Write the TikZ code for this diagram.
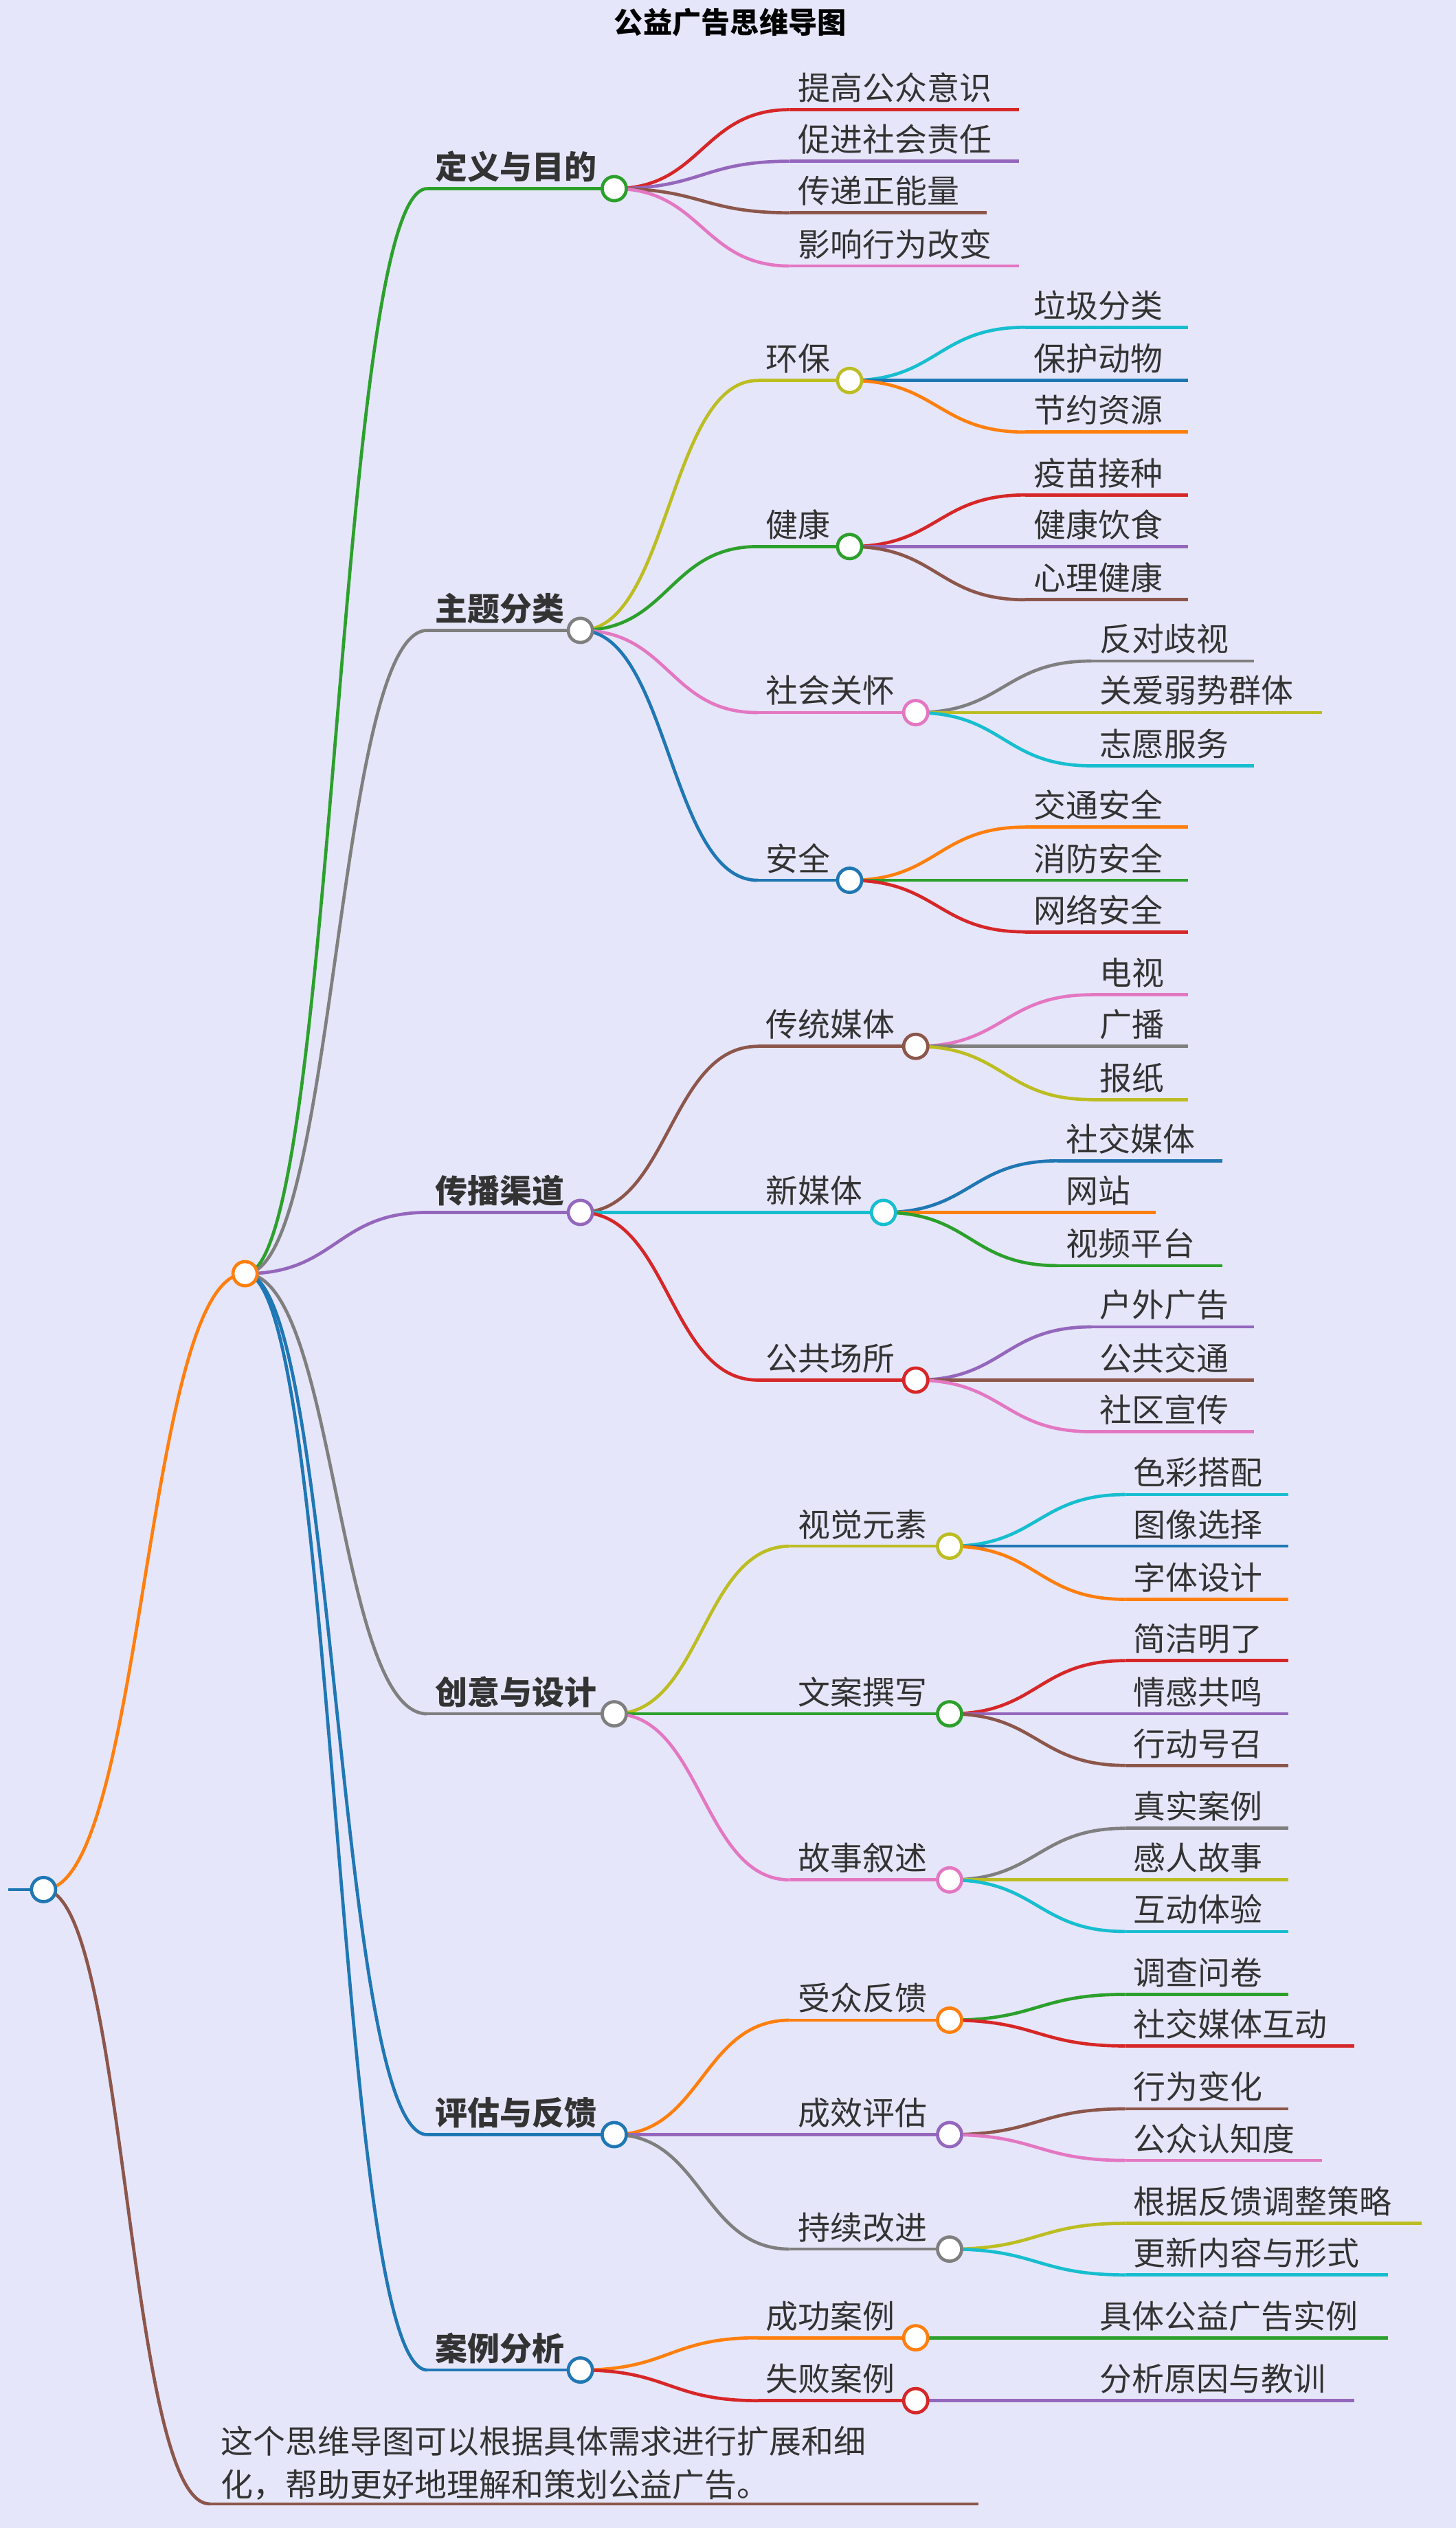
\documentclass[tikz,border=0pt]{standalone}
\usepackage{fontspec}
\setmainfont{Noto Sans CJK SC}
\usetikzlibrary{calc}
\definecolor{bgc}{HTML}{E6E6FA}
\definecolor{cgreen}{HTML}{2CA02C}
\definecolor{cgrey}{HTML}{7F7F7F}
\definecolor{cpurple}{HTML}{9467BD}
\definecolor{cblue}{HTML}{1F77B4}
\definecolor{corange}{HTML}{FF7F0E}
\definecolor{cred}{HTML}{D62728}
\definecolor{cbrown}{HTML}{8C564B}
\definecolor{cpink}{HTML}{E377C2}
\definecolor{colive}{HTML}{BCBD22}
\definecolor{ccyan}{HTML}{17BECF}
\tikzset{
  edge/.style={line width=2bp},
  lbl/.style={inner sep=0pt,font=\fontsize{20bp}{24bp}\selectfont,text=black!80},
  toplbl/.style={lbl,font=\fontsize{20bp}{24bp}\selectfont\bfseries},
  dot/.style={circle,fill=white,line width=2bp,minimum size=15bp,inner sep=0pt}
}
% underline with a label above it
\newcommand\twig[7][lbl]{%
  \coordinate (#2-s) at (#3,#5); \coordinate (#2-e) at (#4,#5);
  \draw[edge,#6] (#2-s) -- (#2-e);
  \node[#1,anchor=base west] (#2) at ([xshift=5bp,yshift=6bp]#2-s) {#7};}
\newcommand\link[3]{\draw[edge,#3] let \p1=(#1-e),\p2=(#2-s) in
  (\p1) .. controls ({(\x1+\x2)/2},\y1) and ({(\x1+\x2)/2},\y2) .. (\p2);}
\newcommand\knot[2]{\node[dot,draw=#2] (#1-c) at (#1-e) {};}
\begin{document}
\begin{tikzpicture}[x=1bp,y=-1bp]
\fill[bgc] (0,0) rectangle (903,1568);
\useasboundingbox (0,0) rectangle (903,1568);
\node[font=\fontsize{18bp}{22bp}\selectfont\bfseries] (title) at (453,14) {公益广告思维导图};
% root and hub
\coordinate (root-s) at (5,1172); \coordinate (root-e) at (27,1172);
\draw[edge,cblue] (root-s) -- (root-e);
\coordinate (hub-s) at (152,790); \coordinate (hub-e) at (152,790);
\link{root}{hub}{corange}
% level 1
\twig[toplbl]{dy}{265}{381}{117}{cgreen}{定义与目的}
\twig[toplbl]{zt}{265}{360}{391}{cgrey}{主题分类}
\twig[toplbl]{cb}{265}{360}{752}{cpurple}{传播渠道}
\twig[toplbl]{cy}{265}{381}{1063}{cgrey}{创意与设计}
\twig[toplbl]{pg}{265}{381}{1324}{cblue}{评估与反馈}
\twig[toplbl]{al}{265}{360}{1470}{cblue}{案例分析}
\link{hub}{dy}{cgreen} \link{hub}{zt}{cgrey} \link{hub}{cb}{cpurple}
\link{hub}{cy}{cgrey} \link{hub}{pg}{cblue} \link{hub}{al}{cblue}
% 定义与目的
\twig{dy1}{490}{632}{68}{cred}{提高公众意识}
\twig{dy2}{490}{632}{100}{cpurple}{促进社会责任}
\twig{dy3}{490}{612}{132}{cbrown}{传递正能量}
\twig{dy4}{490}{632}{165}{cpink}{影响行为改变}
\link{dy}{dy1}{cred} \link{dy}{dy2}{cpurple} \link{dy}{dy3}{cbrown} \link{dy}{dy4}{cpink}
% 主题分类
\twig{hb}{470}{527}{236}{colive}{环保}
\twig{jk}{470}{527}{339}{cgreen}{健康}
\twig{sh}{470}{568}{442}{cpink}{社会关怀}
\twig{aq}{470}{527}{546}{cblue}{安全}
\link{zt}{hb}{colive} \link{zt}{jk}{cgreen} \link{zt}{sh}{cpink} \link{zt}{aq}{cblue}
\twig{hb1}{636}{737}{203}{ccyan}{垃圾分类}
\twig{hb2}{636}{737}{236}{cblue}{保护动物}
\twig{hb3}{636}{737}{268}{corange}{节约资源}
\link{hb}{hb1}{ccyan} \link{hb}{hb2}{cblue} \link{hb}{hb3}{corange}
\twig{jk1}{636}{737}{307}{cred}{疫苗接种}
\twig{jk2}{636}{737}{339}{cpurple}{健康饮食}
\twig{jk3}{636}{737}{372}{cbrown}{心理健康}
\link{jk}{jk1}{cred} \link{jk}{jk2}{cpurple} \link{jk}{jk3}{cbrown}
\twig{sh1}{677}{778}{410}{cgrey}{反对歧视}
\twig{sh2}{677}{820}{442}{colive}{关爱弱势群体}
\twig{sh3}{677}{778}{475}{ccyan}{志愿服务}
\link{sh}{sh1}{cgrey} \link{sh}{sh2}{colive} \link{sh}{sh3}{ccyan}
\twig{aq1}{636}{737}{513}{corange}{交通安全}
\twig{aq2}{636}{737}{546}{cgreen}{消防安全}
\twig{aq3}{636}{737}{578}{cred}{网络安全}
\link{aq}{aq1}{corange} \link{aq}{aq2}{cgreen} \link{aq}{aq3}{cred}
% 传播渠道
\twig{ct}{470}{568}{649}{cbrown}{传统媒体}
\twig{xm}{470}{548}{752}{ccyan}{新媒体}
\twig{gg}{470}{568}{856}{cred}{公共场所}
\link{cb}{ct}{cbrown} \link{cb}{xm}{ccyan} \link{cb}{gg}{cred}
\twig{ct1}{677}{737}{617}{cpink}{电视}
\twig{ct2}{677}{737}{649}{cgrey}{广播}
\twig{ct3}{677}{737}{682}{colive}{报纸}
\link{ct}{ct1}{cpink} \link{ct}{ct2}{cgrey} \link{ct}{ct3}{colive}
\twig{xm1}{656}{758}{720}{cblue}{社交媒体}
\twig{xm2}{656}{717}{752}{corange}{网站}
\twig{xm3}{656}{758}{785}{cgreen}{视频平台}
\link{xm}{xm1}{cblue} \link{xm}{xm2}{corange} \link{xm}{xm3}{cgreen}
\twig{gg1}{677}{778}{823}{cpurple}{户外广告}
\twig{gg2}{677}{778}{856}{cbrown}{公共交通}
\twig{gg3}{677}{778}{888}{cpink}{社区宣传}
\link{gg}{gg1}{cpurple} \link{gg}{gg2}{cbrown} \link{gg}{gg3}{cpink}
% 创意与设计
\twig{sj}{490}{589}{959}{colive}{视觉元素}
\twig{wa}{490}{589}{1063}{cgreen}{文案撰写}
\twig{gs}{490}{589}{1166}{cpink}{故事叙述}
\link{cy}{sj}{colive} \link{cy}{wa}{cgreen} \link{cy}{gs}{cpink}
\twig{sj1}{698}{799}{927}{ccyan}{色彩搭配}
\twig{sj2}{698}{799}{959}{cblue}{图像选择}
\twig{sj3}{698}{799}{992}{corange}{字体设计}
\link{sj}{sj1}{ccyan} \link{sj}{sj2}{cblue} \link{sj}{sj3}{corange}
\twig{wa1}{698}{799}{1030}{cred}{简洁明了}
\twig{wa2}{698}{799}{1063}{cpurple}{情感共鸣}
\twig{wa3}{698}{799}{1095}{cbrown}{行动号召}
\link{wa}{wa1}{cred} \link{wa}{wa2}{cpurple} \link{wa}{wa3}{cbrown}
\twig{gs1}{698}{799}{1134}{cgrey}{真实案例}
\twig{gs2}{698}{799}{1166}{colive}{感人故事}
\twig{gs3}{698}{799}{1198}{ccyan}{互动体验}
\link{gs}{gs1}{cgrey} \link{gs}{gs2}{colive} \link{gs}{gs3}{ccyan}
% 评估与反馈
\twig{sz}{490}{589}{1253}{corange}{受众反馈}
\twig{cx}{490}{589}{1324}{cpurple}{成效评估}
\twig{cg}{490}{589}{1395}{cgrey}{持续改进}
\link{pg}{sz}{corange} \link{pg}{cx}{cpurple} \link{pg}{cg}{cgrey}
\twig{sz1}{698}{799}{1237}{cgreen}{调查问卷}
\twig{sz2}{698}{840}{1269}{cred}{社交媒体互动}
\link{sz}{sz1}{cgreen} \link{sz}{sz2}{cred}
\twig{cx1}{698}{799}{1308}{cbrown}{行为变化}
\twig{cx2}{698}{820}{1340}{cpink}{公众认知度}
\link{cx}{cx1}{cbrown} \link{cx}{cx2}{cpink}
\twig{cg1}{698}{882}{1379}{colive}{根据反馈调整策略}
\twig{cg2}{698}{861}{1411}{ccyan}{更新内容与形式}
\link{cg}{cg1}{colive} \link{cg}{cg2}{ccyan}
% 案例分析
\twig{cs}{470}{568}{1450}{corange}{成功案例}
\twig{sb}{470}{568}{1489}{cred}{失败案例}
\link{al}{cs}{corange} \link{al}{sb}{cred}
\twig{cs1}{677}{861}{1450}{cgreen}{具体公益广告实例}
\twig{sb1}{677}{840}{1489}{cpurple}{分析原因与教训}
\link{cs}{cs1}{cgreen} \link{sb}{sb1}{cpurple}
% closing note
\coordinate (note-s) at (130,1553); \coordinate (note-e) at (607,1553);
\draw[edge,cbrown] (note-s) -- (note-e);
\link{root}{note}{cbrown}
\node[lbl,anchor=south west,align=left,font=\fontsize{20bp}{27bp}\selectfont] (note) at (137,1551)
  {这个思维导图可以根据具体需求进行扩展和细\\化，帮助更好地理解和策划公益广告。};
% circles
\knot{root}{cblue} \knot{hub}{corange}
\knot{dy}{cgreen} \knot{zt}{cgrey} \knot{cb}{cpurple} \knot{cy}{cgrey} \knot{pg}{cblue} \knot{al}{cblue}
\knot{hb}{colive} \knot{jk}{cgreen} \knot{sh}{cpink} \knot{aq}{cblue}
\knot{ct}{cbrown} \knot{xm}{ccyan} \knot{gg}{cred}
\knot{sj}{colive} \knot{wa}{cgreen} \knot{gs}{cpink}
\knot{sz}{corange} \knot{cx}{cpurple} \knot{cg}{cgrey}
\knot{cs}{corange} \knot{sb}{cred}
\end{tikzpicture}
\end{document}
